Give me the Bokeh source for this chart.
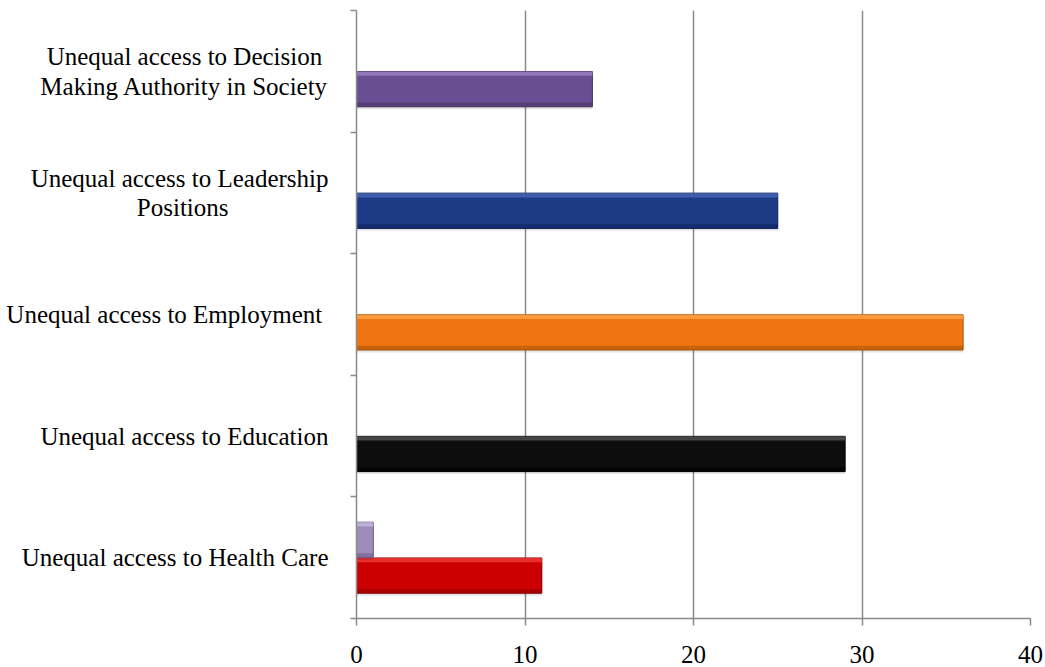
from bokeh.plotting import figure
from bokeh.models import Range1d, FixedTicker, ColumnDataSource
from bokeh.transform import dodge
from bokeh.embed import file_html
from bokeh.resources import INLINE

NB = "\u00a0"  # non-breaking space, used to centre the shorter line of a two-line label

# ---- data ----
categories = [
    "Unequal access to Health Care",
    "Unequal access to Education",
    "Unequal access to Employment" + NB,
    "Unequal access to Leadership\nPositions" + NB * 16,
    "Unequal access to Decision" + NB + "\nMaking Authority in Society",
]
series1 = [11, 29, 36, 25, 14]
series2 = [1, 0, 0, 0, 0]
x_ticks = [0, 10, 20, 30, 40]

# ---- styles ----
colors1 = ["#CC0000", "#0D0D0D", "#F07512", "#1C3A86", "#6A4E94"]
light1 = ["#F03A3A", "#555555", "#FFA54A", "#4A68B8", "#9C80C4"]
dark1 = ["#8E0000", "#000000", "#A85108", "#0F2258", "#47325F"]
colors2 = ["#9D8BBA"]
light2 = ["#C7B8DE"]
dark2 = ["#6C5B88"]

BAR_H = 0.29
OFF = 0.147
STRIP = 0.035
FONT = "Liberation Serif"

n = len(categories)
centers = [i + 0.5 for i in range(n)]

s1 = ColumnDataSource(dict(
    y=[c - OFF for c in centers], v=series1, c=colors1, lc=light1, dc=dark1,
))
idx2 = [i for i, v in enumerate(series2) if v > 0]
s2 = ColumnDataSource(dict(
    y=[centers[i] + OFF for i in idx2], v=[series2[i] for i in idx2],
    c=colors2, lc=light2, dc=dark2,
))

p = figure(
    width=1045, height=667, output_backend="svg", toolbar_location=None,
    x_range=Range1d(0, 40), y_range=Range1d(0, n),
    min_border_left=356, min_border_right=15, min_border_top=10, min_border_bottom=49,
)
p.outline_line_color = None
p.background_fill_color = "white"
p.border_fill_color = "white"

def draw(src):
    # soft shadow
    p.hbar(y=dodge("y", -0.02, range=p.y_range), right="v", left=0, height=BAR_H, source=src,
           fill_color="#000000", fill_alpha=0.10, line_color=None)
    p.hbar(y="y", right="v", left=0, height=BAR_H, source=src,
           fill_color="c", line_color="dc", line_width=1)
    # bottom darker strip
    p.hbar(y=dodge("y", -(BAR_H / 2 - STRIP / 2), range=p.y_range), right="v", left=0,
           height=STRIP, source=src, fill_color="dc", fill_alpha=0.55, line_color=None)
    # top highlight strip
    p.hbar(y=dodge("y", (BAR_H / 2 - STRIP / 2), range=p.y_range), right="v", left=0,
           height=STRIP, source=src, fill_color="lc", fill_alpha=0.8, line_color=None)

draw(s1)
draw(s2)

# x axis
xa = p.xaxis[0]
xa.ticker = FixedTicker(ticks=x_ticks, minor_ticks=[])
xa.axis_line_color = "#8a8a8a"
xa.axis_line_width = 1.5
xa.major_tick_line_color = "#8a8a8a"
xa.major_tick_line_width = 1.5
xa.major_tick_in = 0
xa.major_tick_out = 7
xa.minor_tick_line_color = None
xa.major_label_text_font = FONT
xa.major_label_text_font_size = "25px"
xa.major_label_text_color = "#000000"
xa.major_label_standoff = 20

# y axis: ticks at category boundaries (minor), labels at category centres
ya = p.yaxis[0]
ya.ticker = FixedTicker(ticks=centers, minor_ticks=list(range(n + 1)))
ya.major_label_overrides = {c: lab for c, lab in zip(centers, categories)}
ya.axis_line_color = "#8a8a8a"
ya.axis_line_width = 1.5
ya.major_tick_line_color = None
ya.major_tick_in = 0
ya.major_tick_out = 0
ya.minor_tick_line_color = "#8a8a8a"
ya.minor_tick_line_width = 1.5
ya.minor_tick_in = 0
ya.minor_tick_out = 6
ya.major_label_text_font = FONT
ya.major_label_text_font_size = "25px"
ya.major_label_text_line_height = 1.1
ya.major_label_text_color = "#000000"
ya.major_label_standoff = 22

p.ygrid.grid_line_color = None
p.xgrid.ticker = FixedTicker(ticks=x_ticks)
p.xgrid.grid_line_color = "#8a8a8a"
p.xgrid.grid_line_width = 1.5

open("out.html", "w").write(file_html(p, INLINE))
